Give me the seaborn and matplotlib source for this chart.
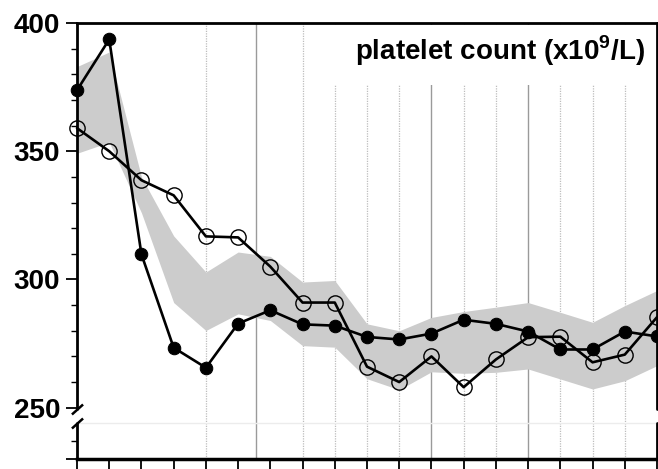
import matplotlib
matplotlib.use("Agg")
import matplotlib.pyplot as plt
from matplotlib.patches import Rectangle
import numpy as np
import pandas as pd
import seaborn as sns

# visit index along x (one point per tick)
visits = list(range(19))

filled = [373.8, 393.6, 309.8, 273.4, 265.6, 282.8, 288.0, 282.5, 282.0, 277.6,
          276.6, 278.9, 284.3, 282.7, 279.7, 272.7, 272.7, 279.7, 277.8]
hollow = [359.0, 350.0, 338.7, 332.8, 316.8, 316.4, 305.0, 291.0, 291.0, 266.0,
          260.0, 270.0, 258.0, 268.8, 277.5, 277.7, 267.7, 270.7, 285.3]

band_upper = [383.0, 388.7, 340.0, 317.0, 302.9, 310.7, 309.0, 299.0, 299.6, 282.7,
              280.0, 285.2, 287.5, 289.2, 291.0, 287.2, 283.3, 289.8, 295.7]
band_lower = [349.2, 353.5, 326.0, 291.0, 280.1, 286.6, 284.0, 274.2, 273.6, 261.3,
              257.0, 264.0, 263.4, 263.8, 265.1, 261.2, 257.3, 260.5, 266.4]

solid_vlines = [5.56, 11, 14]
dotted_vlines = [4, 7, 8, 9, 10, 12, 13, 15, 16, 17]

major_y = [230, 250, 300, 350, 400]
major_labels = ["", "250", "300", "350", "400"]
minor_y = [237] + [v for v in range(260, 400, 10) if v % 50 != 0]
break_lo, break_hi = 244.1, 249.6

sns.set_style("white")
plt.rcParams["font.family"] = ["Liberation Sans", "DejaVu Sans"]
plt.rcParams["mathtext.fontset"] = "custom"
plt.rcParams["mathtext.bf"] = "Liberation Sans:bold"
plt.rcParams["mathtext.rm"] = "Liberation Sans:bold"
plt.rcParams["text.color"] = "black"
plt.rcParams["ytick.color"] = "black"

fig = plt.figure(figsize=(6.58, 4.69), dpi=100)
ax = fig.add_axes([77 / 658, 10 / 469, 580 / 658, 436 / 469])

for x in solid_vlines:
    ax.axvline(x, color="#9a9a9a", lw=1.0, zorder=0.5)
for x in dotted_vlines:
    ax.axvline(x, color="#bdbdbd", lw=0.9, ls=(0, (1, 1)), zorder=0.5)
ax.axhline(break_lo, color="#ececec", lw=1.0, zorder=0.5)

# white box behind the title hides the grid lines
ax.add_patch(Rectangle((0.419, 0.858), 0.581, 0.137, transform=ax.transAxes,
                       facecolor="white", edgecolor="none", zorder=0.8))

ax.fill_between(visits, band_lower, band_upper, color="#cccccc", lw=0, zorder=1)

df = pd.DataFrame({"visit": visits, "filled": filled, "hollow": hollow})
sns.lineplot(data=df, x="visit", y="filled", ax=ax, color="black", lw=1.9,
             marker="o", markersize=9, markerfacecolor="black",
             markeredgecolor="black", clip_on=False, zorder=3)
sns.lineplot(data=df, x="visit", y="hollow", ax=ax, color="black", lw=1.9,
             marker="o", markersize=11, markerfacecolor="none",
             markeredgecolor="black", markeredgewidth=1.0, clip_on=False, zorder=3)

ax.set_xlim(0, 18)
ax.set_ylim(230, 400)
ax.set_xlabel("")
ax.set_ylabel("")

ax.set_xticks(visits)
ax.set_xticklabels([])
ax.tick_params(axis="x", direction="out", length=7, width=1.3, color="black", bottom=True)

ax.set_yticks(major_y)
ax.set_yticklabels(major_labels)
ax.set_yticks(minor_y, minor=True)
ax.tick_params(axis="y", which="major", direction="out", length=8, width=1.3,
               color="black", labelcolor="black", left=True, pad=4, labelsize=20)
ax.tick_params(axis="y", which="minor", direction="out", length=4, width=1.0,
               color="black", left=True)
for lab in ax.get_yticklabels():
    lab.set_fontweight("bold")

for side in ["top", "bottom"]:
    ax.spines[side].set_visible(True)
    ax.spines[side].set_color("black")
ax.spines["top"].set_linewidth(2.0)
ax.spines["bottom"].set_linewidth(2.5)
ax.spines["left"].set_visible(False)
ax.spines["right"].set_visible(False)

# broken left and right axis lines
for x in [0, 18]:
    ax.plot([x, x], [break_hi, 400], color="black", lw=2.0, clip_on=False, zorder=4)
    ax.plot([x, x], [230, break_lo], color="black", lw=2.0, clip_on=False, zorder=4)
ax.plot([0, 0], [break_hi, break_lo], ls="none", marker=[(-1, -0.9), (1, 0.9)],
        markersize=8, markeredgewidth=1.8, color="black", clip_on=False, zorder=5)

ax.text(0.979, 0.936, r"platelet count (x10$^{\mathbf{9}}$/L)", transform=ax.transAxes,
        ha="right", va="center", fontsize=20, fontweight="bold", color="black", zorder=6)

fig.savefig("out.png", dpi=100)
